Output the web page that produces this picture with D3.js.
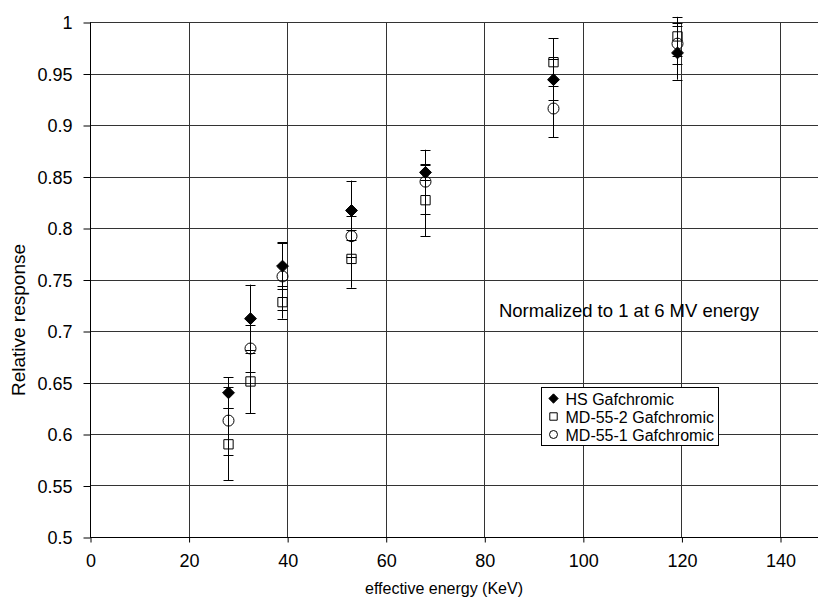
<!DOCTYPE html>
<html>
<head>
<meta charset="utf-8">
<script src="https://cdn.jsdelivr.net/npm/d3@7"></script>
<style>
  body { margin: 0; background: #fff; }
  svg text { font-family: "Liberation Sans", Arial, sans-serif; fill: #000; }
</style>
</head>
<body>
<div id="chart"></div>
<script>
// energies (KeV)
const energies = [28, 32.5, 39, 53, 68, 94, 119];

// HS Gafchromic
const hsValues = [0.640, 0.712, 0.763, 0.817, 0.854, 0.944, 0.970];
const hsErrors = [0.015, 0.033, 0.022, 0.029, 0.007, 0.020, 0.026];

// MD-55-2 Gafchromic
const md2Values = [0.590, 0.651, 0.728, 0.770, 0.827, 0.961, 0.986];
const md2Errors = [0.035, 0.031, 0.016, 0.028, 0.035, 0.023, 0.019];

// MD-55-1 Gafchromic
const md1Values = [0.613, 0.683, 0.753, 0.792, 0.845, 0.916, 0.979];
const md1Errors = [0.033, 0.023, 0.033, 0.020, 0.031, 0.028, 0.020];

const xTicks = [0, 20, 40, 60, 80, 100, 120, 140];
const yTicks = [0.5, 0.55, 0.6, 0.65, 0.7, 0.75, 0.8, 0.85, 0.9, 0.95, 1];

const W = 818, H = 599;
const MARGIN = {TOP: 22, BOTTOM: 62, LEFT: 90, RIGHT: 0};

const svg = d3.select("#chart").append("svg")
    .attr("width", W)
    .attr("height", H);

const x = d3.scaleLinear().domain([0, 140]).range([MARGIN.LEFT, 780]);
const y = d3.scaleLinear().domain([0.5, 1]).range([H - MARGIN.BOTTOM, MARGIN.TOP]);

// gridlines
svg.append("g")
    .selectAll("line")
    .data(yTicks)
    .enter().append("line")
    .attr("x1", MARGIN.LEFT)
    .attr("x2", W)
    .attr("y1", d => Math.round(y(d)) + 0.5)
    .attr("y2", d => Math.round(y(d)) + 0.5)
    .attr("stroke", "#333");

svg.append("g")
    .selectAll("line")
    .data(xTicks.slice(1))
    .enter().append("line")
    .attr("x1", d => Math.round(x(d)) + 0.5)
    .attr("x2", d => Math.round(x(d)) + 0.5)
    .attr("y1", MARGIN.TOP)
    .attr("y2", H - MARGIN.BOTTOM)
    .attr("stroke", "#333");

// axes
const yAxis = d3.axisLeft(y).tickValues(yTicks).tickSize(7).tickPadding(11)
    .tickFormat(d => d3.format("")(+d.toFixed(2)));
const gy = svg.append("g")
    .attr("transform", `translate(${MARGIN.LEFT + 0.5},0.5)`)
    .call(yAxis);
gy.select(".domain").remove();
gy.append("line").attr("y1", MARGIN.TOP).attr("y2", H - MARGIN.BOTTOM).attr("stroke", "#000");
gy.selectAll("text").style("font-size", "18px").attr("dy", "0.35em");

const xAxis = d3.axisBottom(x).tickValues(xTicks).tickSize(5).tickPadding(12);
const gx = svg.append("g")
    .attr("transform", `translate(0.5,${H - MARGIN.BOTTOM + 0.5})`)
    .call(xAxis);
gx.select(".domain").remove();
gx.append("line").attr("x1", MARGIN.LEFT).attr("x2", W).attr("stroke", "#000");
gx.selectAll("text").style("font-size", "18px");

svg.append("text")
    .attr("x", 444)
    .attr("y", 594)
    .attr("text-anchor", "middle")
    .style("font-size", "16px")
    .text("effective energy (KeV)");

svg.append("text")
    .attr("transform", "translate(25,320) rotate(-90)")
    .attr("text-anchor", "middle")
    .style("font-size", "19px")
    .text("Relative response");

svg.append("text")
    .attr("x", 629)
    .attr("y", 317)
    .attr("text-anchor", "middle")
    .style("font-size", "18.5px")
    .text("Normalized to 1 at 6 MV energy");

// series
const series = [
    {name: "HS Gafchromic", values: hsValues, errors: hsErrors, shape: d3.symbolDiamond2, size: 90, legendSize: 55},
    {name: "MD-55-2 Gafchromic", values: md2Values, errors: md2Errors, shape: d3.symbolSquare2, size: 110, legendSize: 70},
    {name: "MD-55-1 Gafchromic", values: md1Values, errors: md1Errors, shape: d3.symbolCircle, size: 95, legendSize: 50}
];

// error bars first
series.forEach(s => {
    const g = svg.append("g").attr("stroke", "#000").attr("stroke-width", 1);
    energies.forEach((e, i) => {
        const cx = Math.round(x(e)) + 0.5;
        const top = y(s.values[i] + s.errors[i]);
        const bot = y(s.values[i] - s.errors[i]);
        g.append("line").attr("x1", cx).attr("x2", cx).attr("y1", top).attr("y2", bot);
        g.append("line").attr("x1", cx - 5).attr("x2", cx + 5).attr("y1", Math.round(top) + 0.5).attr("y2", Math.round(top) + 0.5);
        g.append("line").attr("x1", cx - 5).attr("x2", cx + 5).attr("y1", Math.round(bot) + 0.5).attr("y2", Math.round(bot) + 0.5);
    });
});

series.forEach(s => {
    const sym = d3.symbol().type(s.shape).size(s.size);
    svg.append("g")
        .selectAll("path")
        .data(energies)
        .enter().append("path")
        .attr("transform", (d, i) => `translate(${Math.round(x(d)) + 0.5},${y(s.values[i])})`)
        .attr("d", sym)
        .attr("fill", s.shape === d3.symbolDiamond2 ? "#000" : "none")
        .attr("stroke", "#000")
        .attr("stroke-width", 1);
});

// legend
const legend = svg.append("g").attr("transform", "translate(541.5,387.5)");
legend.append("rect")
    .attr("width", 177)
    .attr("height", 58)
    .attr("fill", "#fff")
    .attr("stroke", "#000");
series.forEach((s, i) => {
    const row = legend.append("g").attr("transform", `translate(12,${11 + i * 18})`);
    row.append("path")
        .attr("d", d3.symbol().type(s.shape).size(s.legendSize))
        .attr("fill", s.shape === d3.symbolDiamond2 ? "#000" : "none")
        .attr("stroke", "#000");
    row.append("text")
        .attr("x", 12)
        .attr("y", 6)
        .style("font-size", "16px")
        .text(s.name);
});
</script>
</body>
</html>
